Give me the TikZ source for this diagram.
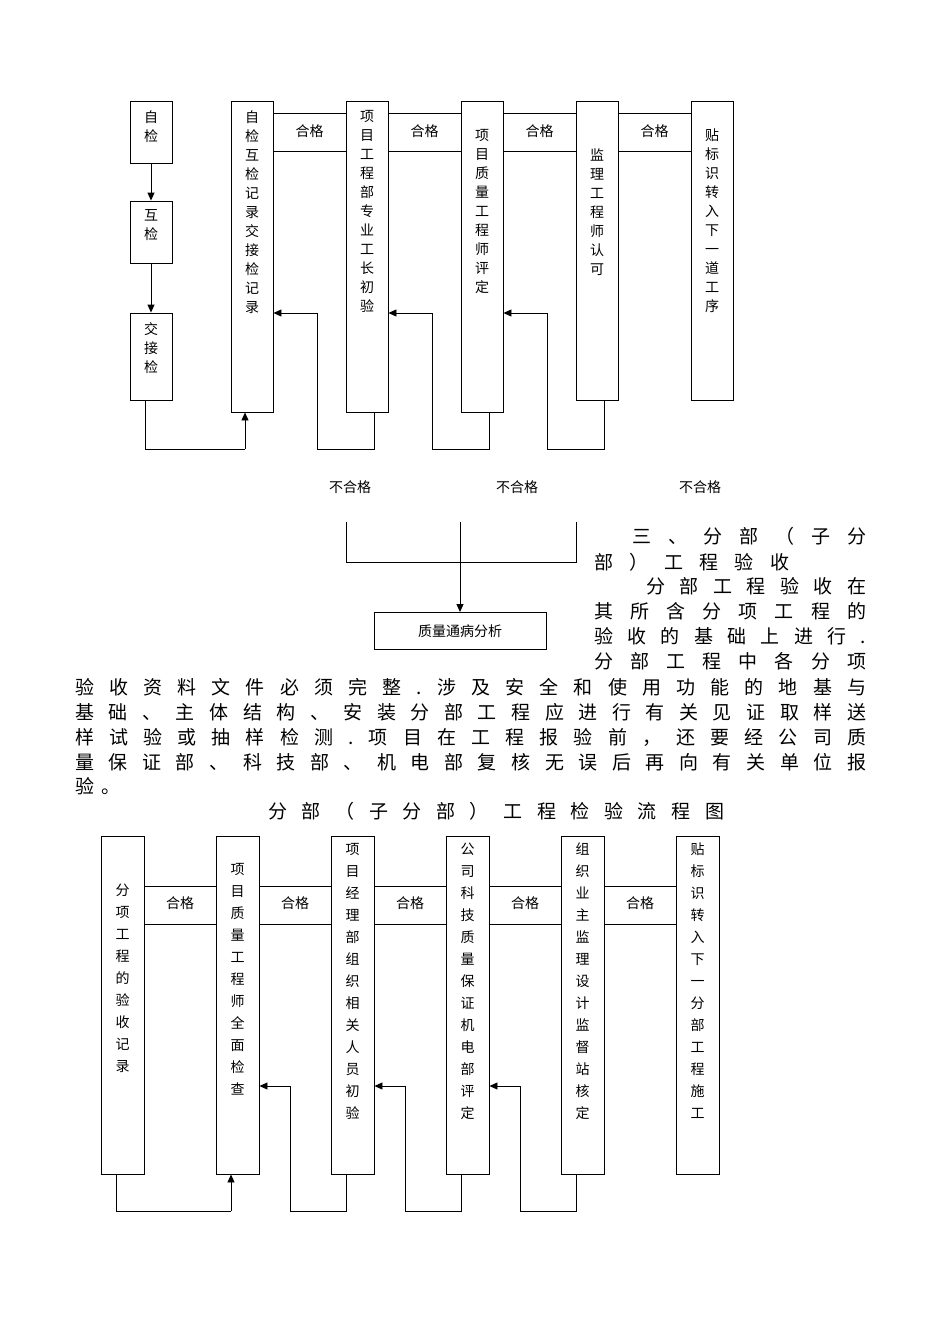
\documentclass[tikz,border=0pt]{standalone}
\usepackage{fontspec}
\setmainfont{Noto Sans CJK SC}
\usetikzlibrary{arrows.meta}
\makeatletter
\def\vtA#1{\ifx#1\relax\else\hbox to 16pt{\hss#1\hss}\expandafter\vtA\fi}
\newcommand\vt[2]{\vbox{\baselineskip=#1pt\lineskiplimit=-20pt\vtA#2\relax}}
\def\spA#1{#1\spB}
\def\spB#1{\ifx#1\relax\else\hfil#1\expandafter\spB\fi}
\newcommand\spl[2]{\makebox[#1pt][s]{\spA#2\relax}}
\makeatother
\tikzset{
  bx/.style={draw,line width=0.9pt,inner sep=0pt},
  vtx/.style={anchor=north,inner sep=0pt,font=\fontsize{14}{16}\selectfont},
  lbl/.style={font=\fontsize{14}{16}\selectfont,inner sep=0pt},
  para/.style={anchor=west,inner sep=0pt,font=\fontsize{19}{22}\selectfont},
  ln/.style={line width=0.9pt},
  arr/.style={line width=0.9pt,-{Triangle[length=8pt,width=7pt]}}
}
\begin{document}
\begin{tikzpicture}[x=1pt,y=-1pt]
\useasboundingbox (0,0) rectangle (950,1344);
% ---------- top diagram ----------
\node[bx,minimum width=42,minimum height=62] (s1) at (151,132) {};
\node[bx,minimum width=42,minimum height=62] (s2) at (151,232) {};
\node[bx,minimum width=42,minimum height=87] (s3) at (151,356.5) {};
\node[vtx] (s1t) at (151,111) {\vt{19}{自检}};
\node[vtx] (s2t) at (151,209) {\vt{19}{互检}};
\node[vtx] (s3t) at (151,322) {\vt{19}{交接检}};
\draw[arr] (s1) -- (s2);
\draw[arr] (s2) -- (s3);
\node[bx,minimum width=42,minimum height=311] (t1) at (252,256.5) {};
\node[bx,minimum width=42,minimum height=311] (t2) at (367,256.5) {};
\node[bx,minimum width=42,minimum height=311] (t3) at (482,256.5) {};
\node[bx,minimum width=42,minimum height=299] (t4) at (597,250.5) {};
\node[bx,minimum width=42,minimum height=299] (t5) at (712,250.5) {};
\node[vtx] (t1t) at (252,111) {\vt{19}{自检互检记录交接检记录}};
\node[vtx] (t2t) at (367,110) {\vt{19}{项目工程部专业工长初验}};
\node[vtx] (t3t) at (482,129) {\vt{19}{项目质量工程师评定}};
\node[vtx] (t4t) at (597,149) {\vt{19}{监理工程师认可}};
\node[vtx] (t5t) at (712,129) {\vt{19}{贴标识转入下一道工序}};
\foreach \a/\b/\m in {t1/t2/309.5,t2/t3/424.5,t3/t4/539.5,t4/t5/654.5}{
  \draw[ln] (\a.east |- 0,113) -- (\b.west |- 0,113);
  \draw[ln] (\a.east |- 0,151) -- (\b.west |- 0,151);
  \node[lbl] at (\m,131) {合格};
}
\coordinate (c1) at (145,449);
\coordinate (c2) at (245,449);
\draw[ln] (s3.south -| c1) -- (c1) -- (c2);
\draw[arr] (c2) -- (t1.south -| c2);
\foreach \a/\b/\x/\v in {t2/t1/374/317,t3/t2/489/432,t4/t3/604/547}{
  \draw[arr] (\a.south -| \x,0) -- (\x,449) -- (\v,449) -- (\v,313) -- (\b.east |- 0,313);
}
\node[lbl] (n1) at (350,487) {不合格};
\node[lbl] (n2) at (517,487) {不合格};
\node[lbl] (n3) at (700,487) {不合格};
\node[draw,line width=0.9pt,minimum width=172,minimum height=37,inner sep=0pt,font=\fontsize{14}{16}\selectfont] (q) at (460,631) {质量通病分析};
\coordinate (m1) at (346,522);
\coordinate (m2) at (576,522);
\coordinate (m3) at (460,522);
\draw[ln] (m1) -- (346,562) -- (576,562) -- (m2);
\draw[arr] (m3) -- (q.north);
% ---------- text ----------
\node[para] (p1) at (632,536) {\spl{234}{三、分部（子分}};
\node[para] (p2) at (594,562) {\spl{195}{部）工程验收}};
\node[para] (p3) at (646,586) {\spl{220}{分部工程验收在}};
\node[para] (p4) at (594,611) {\spl{272}{其所含分项工程的}};
\node[para] (p5) at (594,636) {\spl{272}{验收的基础上进行.}};
\node[para] (p6) at (594,661) {\spl{272}{分部工程中各分项}};
\node[para] (p7) at (75,687) {\spl{791}{验收资料文件必须完整.涉及安全和使用功能的地基与}};
\node[para] (p8) at (75,712) {\spl{791}{基础、主体结构、安装分部工程应进行有关见证取样送}};
\node[para] (p9) at (75,737) {\spl{791}{样试验或抽样检测.项目在工程报验前，还要经公司质}};
\node[para] (p10) at (75,762) {\spl{791}{量保证部、科技部、机电部复核无误后再向有关单位报}};
\node[para] (p11) at (75,786) {\spl{45}{验。}};
\node[para] (ttl) at (268,811) {\spl{456}{分部（子分部）工程检验流程图}};
% ---------- bottom diagram ----------
\foreach \i/\x in {1/101,2/216,3/331,4/446,5/561,6/676}{
  \node[bx,minimum width=43,minimum height=338] (b\i) at (\x+21.5,1005) {};
}
\node[vtx] (b1t) at (122.5,884) {\vt{22}{分项工程的验收记录}};
\node[vtx] (b2t) at (237.5,863) {\vt{22}{项目质量工程师全面检查}};
\node[vtx] (b3t) at (352.5,843) {\vt{22}{项目经理部组织相关人员初验}};
\node[vtx] (b4t) at (467.5,843) {\vt{22}{公司科技质量保证机电部评定}};
\node[vtx] (b5t) at (582.5,843) {\vt{22}{组织业主监理设计监督站核定}};
\node[vtx] (b6t) at (697.5,843) {\vt{22}{贴标识转入下一分部工程施工}};
\foreach \a/\b/\m in {b1/b2/180,b2/b3/295,b3/b4/410,b4/b5/525,b5/b6/640}{
  \draw[ln] (\a.east |- 0,886) -- (\b.west |- 0,886);
  \draw[ln] (\a.east |- 0,924) -- (\b.west |- 0,924);
  \node[lbl] at (\m,903) {合格};
}
\coordinate (d1) at (116,1211);
\coordinate (d2) at (231,1211);
\draw[ln] (b1.south -| d1) -- (d1) -- (d2);
\draw[arr] (d2) -- (b2.south -| d2);
\foreach \a/\b/\x/\v in {b3/b2/346/290,b4/b3/461/405,b5/b4/576/520}{
  \draw[arr] (\a.south -| \x,0) -- (\x,1211) -- (\v,1211) -- (\v,1086) -- (\b.east |- 0,1086);
}
\end{tikzpicture}
\end{document}
